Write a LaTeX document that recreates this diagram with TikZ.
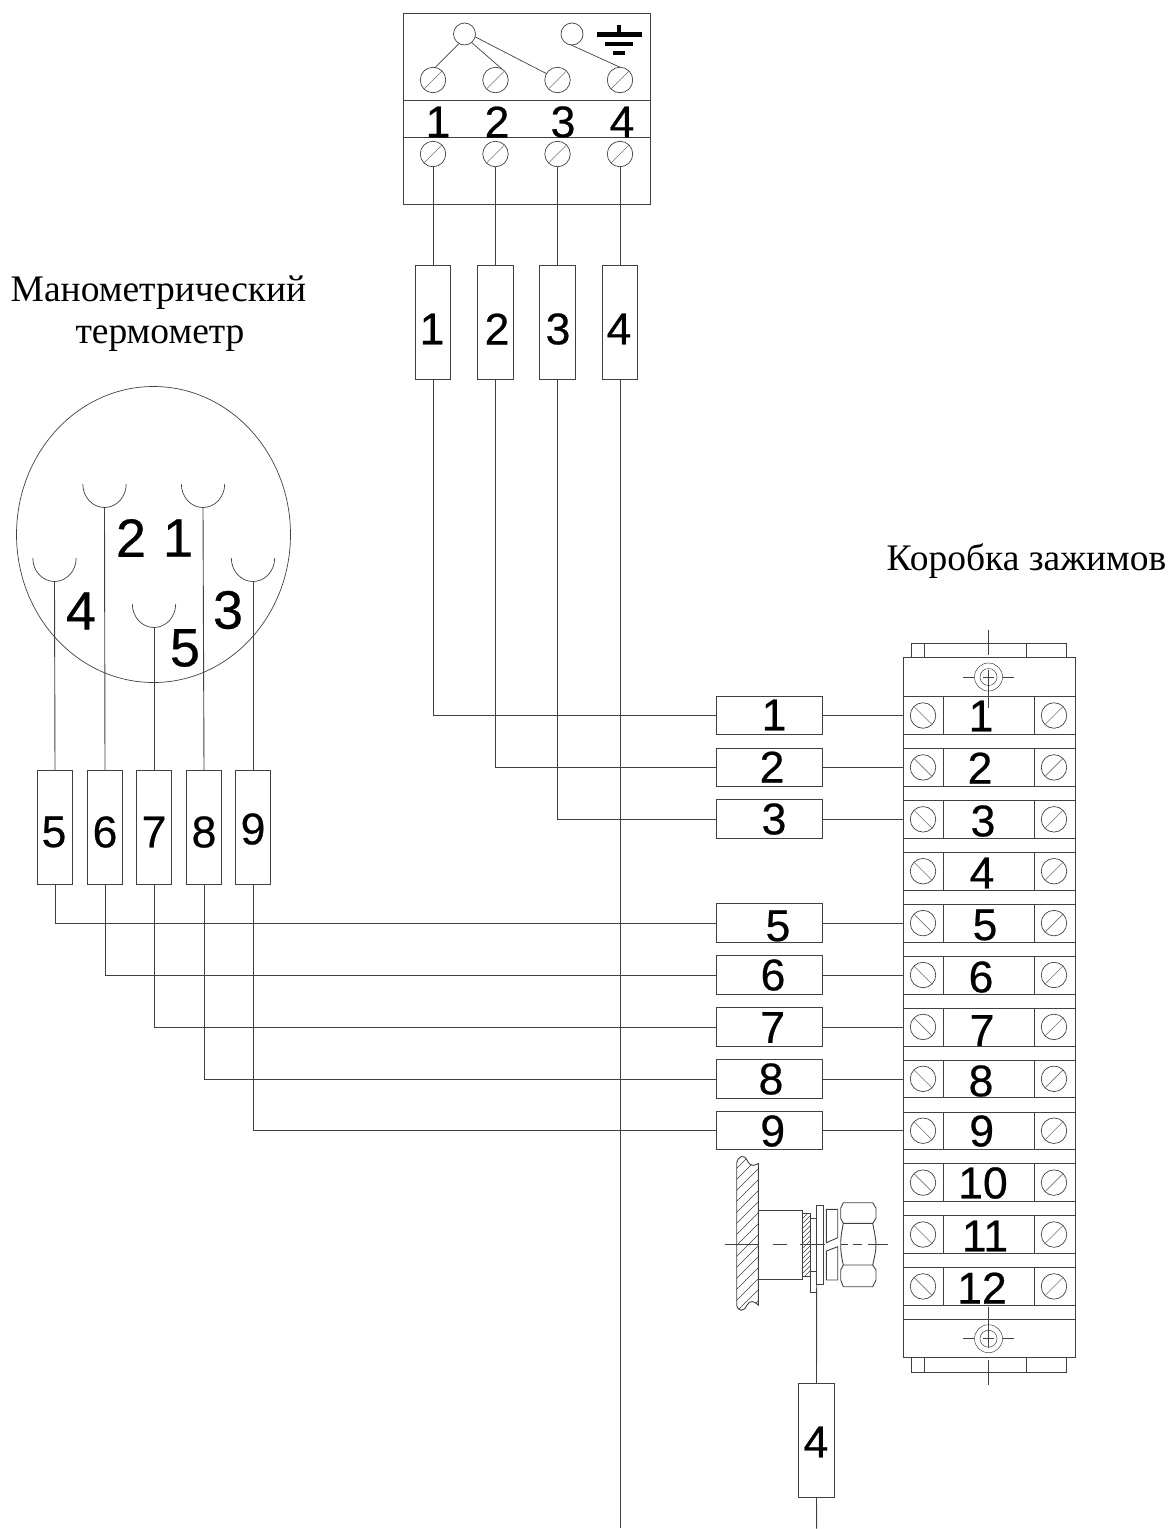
\documentclass[tikz,border=0pt]{standalone}
\usepackage{fontspec}
\setmainfont{Liberation Sans}
\newfontfamily\numfont[FakeBold=0.5]{Liberation Sans}
\newfontfamily\serifcap{Liberation Serif}
\usetikzlibrary{shapes.geometric}
\definecolor{ink}{gray}{0.25}
\tikzset{
  every node/.style={outer sep=0pt},
  wire/.style={line width=0.9pt,draw=ink},
  screw/.style={circle,draw=ink,line width=0.7pt,inner sep=0pt,minimum size=25.5pt},
  bulb/.style={circle,draw=ink,line width=0.7pt,inner sep=0pt,minimum size=22pt},
  vbox/.style={draw=ink,line width=1pt,inner sep=0pt,minimum width=35.5pt,minimum height=114pt},
  hbox/.style={draw=ink,line width=1pt,inner sep=0pt,minimum width=106pt,minimum height=38.5pt},
  num/.style={inner sep=0pt,font=\numfont\fontsize{44.5}{44.5}\selectfont},
  bignum/.style={inner sep=0pt,font=\numfont\fontsize{54}{54}\selectfont},
  capt/.style={inner sep=0pt,anchor=base,font=\serifcap\fontsize{37.5}{37.5}\selectfont},
  fine/.style={line width=0.7pt,draw=ink},
  slash/.style={line width=0.6pt,draw=black!55},
  hatchline/.style={line width=0.5pt,draw=ink}
}
\newcommand{\slashR}[1]{\draw[slash] (#1.225)--(#1.45);}
\newcommand{\slashL}[1]{\draw[slash] (#1.135)--(#1.-45);}
\begin{document}
\begin{tikzpicture}[x=1pt,y=-1pt]
\useasboundingbox (0,0) rectangle (1171,1529);
% ---------- top terminal box
\node[draw=ink,line width=1pt,inner sep=0pt,minimum width=247pt,minimum height=191pt] (topbox) at (526.5,108.5) {};
\draw[wire] (403,100)--(650,100);
\draw[wire] (403,137)--(650,137);
\node[bulb] (b1) at (464.5,34) {};
\node[bulb] (b2) at (572,34) {};
\foreach \n/\x in {1/433,2/495.5,3/557.5,4/620}{
  \node[screw] (us\n) at (\x,80) {};
  \node[screw] (ls\n) at (\x,154) {};
  \slashR{us\n}\slashR{ls\n}
}
\draw[fine] (b1.240)--(us1.80);
\draw[fine] (b1.-50)--(us2.60);
\draw[fine] (b1.-15)--(us3.150);
\draw[fine] (b2.-95)--(us4.90);
% ground
\draw[line width=5pt] (597,34.8)--(642,34.8);
\draw[line width=4.3pt] (605,43.8)--(633,43.8);
\draw[line width=4pt] (613,53)--(625,53);
\draw[line width=4.5pt] (619.2,25)--(619.2,34);
\node[num] (t1) at (438,122) {1};
\node[num] (t2) at (497,122) {2};
\node[num] (t3) at (563,122) {3};
\node[num] (t4) at (622,122) {4};
% ---------- vertical label boxes
\foreach \n/\x/\lx in {1/433/432,2/495.5/497,3/557.5/558,4/620/619}{
  \node[vbox] (vb\n) at (\x,322) {};
  \node[num] (vl\n) at (\lx,329) {\n};
  \draw[wire] (ls\n.south)--(vb\n.north);
}
\foreach \n/\x/\lx/\ly in {5/55/54/832,6/105/105/832,7/154/154/832,8/204/204/832,9/253/253/829}{
  \node[vbox] (vb\n) at (\x,827.5) {};
  \node[num] (vl\n) at (\lx,\ly) {\n};
}
% ---------- horizontal label boxes
\foreach \n/\y/\lx/\ly in {1/715.5/774/715,2/767.5/772/767,3/819/774/819,5/923/778/926,6/975/773/975,7/1027/772.7/1027.5,8/1079/771/1079,9/1130.5/772.7/1131}{
  \node[hbox] (hb\n) at (769.5,\y) {};
  \node[num] (hl\n) at (\lx,\ly) {\n};
  \coordinate (tw\n) at (903,\y);
  \draw[wire] (hb\n.east)--(tw\n);
}
\foreach \n in {1,2,3,5,6,7,8,9}{\draw[wire] (vb\n.south) |- (hb\n.west);}
\coordinate (wire4end) at (620,1528);
\draw[wire] (vb4.south)--(wire4end);
% ---------- thermometer
\node[capt] (capa) at (158.5,301.7) {Манометрический};
\node[capt] (capb) at (160,343) {термометр};
\draw[fine] (153.5,534.5) ellipse [x radius=137,y radius=148];
\foreach \n/\x/\y in {6/104.5/484,8/203/484,5/54.5/558,9/253/558,7/154/604}{
  \draw[fine] (\x-21.7,\y) arc[start angle=180,end angle=0,x radius=21.7,y radius=23.5];
  \coordinate (pin\n) at (\x,\y+23.5);
  \draw[wire] (pin\n)--(vb\n.north);
}
\node[bignum] (p2) at (131,538) {2};
\node[bignum] (p1) at (178,538) {1};
\node[bignum] (p4) at (81,611) {4};
\node[bignum] (p3) at (228,610) {3};
\node[bignum] (p5) at (185,648) {5};
% ---------- terminal block
\node[capt] (capc) at (1026.5,570.7) {Коробка зажимов};
\draw[wire] (903,657.5) rectangle (1075,1357);
\draw[wire] (911.7,657.5)--(911.7,643)--(1066.5,643)--(1066.5,657.5);
\draw[wire] (924,643)--(924,657.5) (1026.7,643)--(1026.7,657.5);
\draw[wire] (911.7,1357)--(911.7,1372)--(1066.5,1372)--(1066.5,1357);
\draw[wire] (924,1372)--(924,1357) (1026.7,1372)--(1026.7,1357);
\foreach \n/\lx/\ly [evaluate=\n as \rowtop using 696.7+51.9*(\n-1)] in {1/981/716,2/980/768,3/983/821,4/982/873,5/985/925,6/981/977,7/982/1030.5,8/981/1081,9/981.7/1131,10/983/1183,11/985/1236,12/982/1288}{
  \draw[fine] (903,\rowtop)--(1075,\rowtop) (903,\rowtop+37.8)--(1075,\rowtop+37.8);
  \draw[fine] (943,\rowtop)--(943,\rowtop+37.8) (1034,\rowtop)--(1034,\rowtop+37.8);
  \node[screw] (sl\n) at (923,\rowtop+18.8) {};
  \node[screw] (sr\n) at (1054,\rowtop+18.8) {};
  \slashL{sl\n}\slashR{sr\n}
  \node[num] (tl\n) at (\lx,\ly) {\n};
}
\draw[fine] (903,1319.3)--(1075,1319.3);
% fixing screws
\foreach \cy in {677,1338.7}{
  \draw[hatchline] (988.5,\cy) circle[radius=14];
  \draw[hatchline] (988.5,\cy) circle[radius=8.5];
  \draw[hatchline] (963,\cy)--(974,\cy) (983,\cy)--(994,\cy) (1003,\cy)--(1014,\cy);
}
\draw[hatchline] (988.5,630)--(988.5,655) (988.5,670)--(988.5,708);
\draw[hatchline] (988.5,1306.7)--(988.5,1348) (988.5,1360)--(988.5,1385);
% ---------- gland detail
\begin{scope}
\clip (736.7,1163) .. controls (738,1156) and (744,1154) .. (747,1160) .. controls (750,1167) and (754,1166) .. (758.3,1163.5)
  -- (758.3,1305) .. controls (754,1301) and (750,1300) .. (747,1305) .. controls (744,1312) and (738,1312) .. (736.7,1305) -- cycle;
\foreach \k in {0,...,16}{\draw[hatchline] (730,1175+\k*11)--(765,1140+\k*11);}
\end{scope}
\draw[wire] (736.7,1163) .. controls (738,1156) and (744,1154) .. (747,1160) .. controls (750,1167) and (754,1166) .. (758.3,1163.5)
  -- (758.3,1305) .. controls (754,1301) and (750,1300) .. (747,1305) .. controls (744,1312) and (738,1312) .. (736.7,1305) -- cycle;
\draw[wire] (758.3,1210)--(802.7,1210)--(802.7,1279)--(758.3,1279);
\begin{scope}
\clip (802.7,1213) rectangle (810,1276.7);
\foreach \k in {0,...,14}{\draw[hatchline] (798,1218+\k*5)--(815,1201+\k*5);}
\end{scope}
\draw[wire] (802.7,1213) rectangle (810,1276.7);
\draw[wire] (810,1218.3)--(816.7,1218.3) (810,1271)--(816.7,1271);
\draw[wire] (810,1218.3)--(810,1292.7)--(816.7,1292.7);
\draw[wire] (816.7,1205.3) rectangle (823.3,1284);
\draw[wire] (826.3,1209.3)--(837.7,1209.3)--(837.7,1237.7)--(826.3,1242.7)--cycle;
\draw[wire] (826.3,1251)--(837.7,1246.7)--(837.7,1280)--(826.3,1280)--cycle;
\draw[wire] (843.3,1202.7)--(872.7,1202.7)--(876,1208.3)--(876,1218.3)--(872.7,1223.3)--(843.3,1223.3)--(840.7,1218.3)--(840.7,1208.3)--cycle;
\draw[wire] (843.3,1265)--(872.7,1265)--(876,1270)--(876,1280)--(872.7,1286.7)--(843.3,1286.7)--(840.7,1280)--(840.7,1270)--cycle;
\draw[wire] (843.3,1223.3) .. controls (841,1235) and (840.7,1240) .. (840.7,1244.3) .. controls (840.7,1250) and (841,1255) .. (843.3,1265);
\draw[wire] (872.7,1223.3) .. controls (875,1235) and (876,1240) .. (876,1244.3) .. controls (876,1250) and (875,1255) .. (872.7,1265);
\draw[fine] (724.7,1244.3)--(759.3,1244.3) (772.7,1244.3)--(786.7,1244.3) (800,1244.3)--(825,1244.3) (840.7,1244.3)--(848,1244.3) (853.3,1244.3)--(861.7,1244.3) (868.3,1244.3)--(887.7,1244.3);
% lower box and wire
\node[vbox] (vb10) at (816.5,1440) {};
\node[num] (vl10) at (816,1442) {4};
\coordinate (lugbottom) at (816.7,1284);
\coordinate (lowerend) at (816.7,1529);
\draw[wire] (lugbottom)--(vb10.north);
\draw[wire] (vb10.south)--(lowerend);
\end{tikzpicture}
\end{document}
